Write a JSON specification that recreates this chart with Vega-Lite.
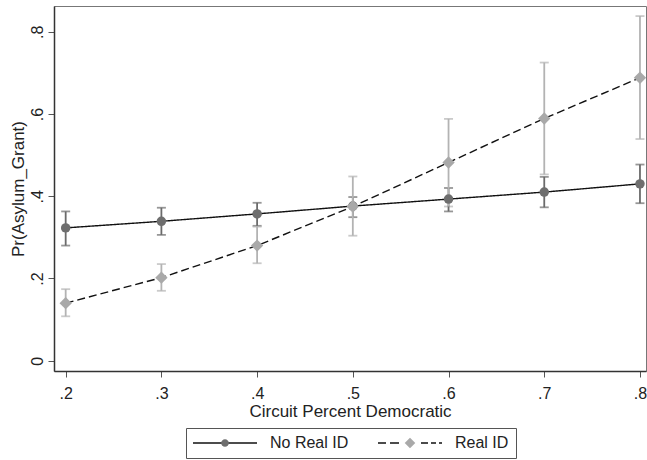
{
  "$schema": "https://vega.github.io/schema/vega-lite/v6.json",
  "width": 592,
  "height": 365,
  "autosize": {"type": "none"},
  "padding": {"left": 54, "top": 6, "right": 1, "bottom": 89},
  "background": "white",
  "config": {
    "font": "Liberation Sans",
    "view": {"stroke": "#777", "strokeWidth": 1},
    "axis": {
      "grid": false,
      "domainColor": "#333",
      "domainWidth": 1.5,
      "tickColor": "#555",
      "tickSize": 6,
      "tickWidth": 1,
      "labelColor": "#222",
      "labelFont": "Liberation Sans",
      "labelFontSize": 16,
      "labelFlush": false,
      "titleFont": "Liberation Sans",
      "titleFontSize": 17,
      "titleFontWeight": "normal",
      "titleColor": "#222"
    }
  },
  "data": {
    "values": [
      {"series": "No Real ID", "x": 0.2, "y": 0.323, "lo": 0.280, "hi": 0.363},
      {"series": "No Real ID", "x": 0.3, "y": 0.339, "lo": 0.306, "hi": 0.372},
      {"series": "No Real ID", "x": 0.4, "y": 0.357, "lo": 0.328, "hi": 0.384},
      {"series": "No Real ID", "x": 0.5, "y": 0.376, "lo": 0.349, "hi": 0.398},
      {"series": "No Real ID", "x": 0.6, "y": 0.393, "lo": 0.363, "hi": 0.420},
      {"series": "No Real ID", "x": 0.7, "y": 0.410, "lo": 0.373, "hi": 0.447},
      {"series": "No Real ID", "x": 0.8, "y": 0.430, "lo": 0.383, "hi": 0.477},
      {"series": "Real ID", "x": 0.2, "y": 0.140, "lo": 0.108, "hi": 0.174},
      {"series": "Real ID", "x": 0.3, "y": 0.202, "lo": 0.170, "hi": 0.235},
      {"series": "Real ID", "x": 0.4, "y": 0.280, "lo": 0.237, "hi": 0.326},
      {"series": "Real ID", "x": 0.5, "y": 0.375, "lo": 0.304, "hi": 0.448},
      {"series": "Real ID", "x": 0.6, "y": 0.482, "lo": 0.375, "hi": 0.588},
      {"series": "Real ID", "x": 0.7, "y": 0.589, "lo": 0.453, "hi": 0.725},
      {"series": "Real ID", "x": 0.8, "y": 0.688, "lo": 0.539, "hi": 0.838}
    ]
  },
  "layer": [
    {
      "mark": {"type": "errorbar", "ticks": true, "size": 9, "thickness": 1.8},
      "encoding": {
        "x": {
          "field": "x", "type": "quantitative",
          "scale": {"domain": [0.1878, 0.8063], "nice": false, "zero": false},
          "title": "Circuit Percent Democratic",
          "axis": {
            "values": [0.2, 0.3, 0.4, 0.5, 0.6, 0.7, 0.8],
            "labelExpr": "replace(format(datum.value, '.1f'), '0.', '.')",
            "labelPadding": 8,
            "titlePadding": 2
          }
        },
        "y": {
          "field": "lo", "type": "quantitative",
          "scale": {"domain": [-0.025, 0.8625], "nice": false, "zero": false},
          "title": "Pr(Asylum_Grant)",
          "axis": {
            "values": [0, 0.2, 0.4, 0.6, 0.8],
            "labelExpr": "datum.value == 0 ? '0' : replace(format(datum.value, '.1f'), '0.', '.')",
            "labelAngle": -90,
            "labelAlign": "center",
            "labelBaseline": "alphabetic",
            "labelPadding": 6,
            "titlePadding": 2
          }
        },
        "y2": {"field": "hi"},
        "color": {
          "field": "series", "type": "nominal",
          "scale": {"domain": ["No Real ID", "Real ID"], "range": ["#6b6b6b", "#b3b3b3"]},
          "legend": null
        }
      }
    },
    {
      "mark": {"type": "line", "color": "#111", "strokeWidth": 1.4},
      "encoding": {
        "x": {"field": "x", "type": "quantitative", "title": "Circuit Percent Democratic"},
        "y": {"field": "y", "type": "quantitative", "title": "Pr(Asylum_Grant)"},
        "strokeDash": {
          "field": "series", "type": "nominal",
          "scale": {"domain": ["No Real ID", "Real ID"], "range": [[1, 0], [8, 4]]},
          "legend": null
        }
      }
    },
    {
      "mark": {"type": "point", "filled": true, "opacity": 1, "size": 90, "strokeWidth": 0},
      "encoding": {
        "x": {"field": "x", "type": "quantitative", "title": "Circuit Percent Democratic"},
        "y": {"field": "y", "type": "quantitative", "title": "Pr(Asylum_Grant)"},
        "shape": {
          "field": "series", "type": "nominal",
          "scale": {"domain": ["No Real ID", "Real ID"], "range": ["circle", "M-1.3,0L0,-1.3L1.3,0L0,1.3Z"]},
          "legend": null
        },
        "fill": {
          "field": "series", "type": "nominal",
          "scale": {"domain": ["No Real ID", "Real ID"], "range": ["#6e6e6e", "#a9a9a9"]},
          "legend": null
        }
      }
    },
    {
      "transform": [{"filter": "false"}],
      "mark": {"type": "point", "filled": true, "opacity": 1, "color": "#111", "strokeWidth": 0},
      "encoding": {
        "x": {"field": "x", "type": "quantitative", "title": "Circuit Percent Democratic"},
        "y": {"field": "y", "type": "quantitative", "title": "Pr(Asylum_Grant)"},
        "shape": {
          "field": "series", "type": "nominal",
          "scale": {
            "domain": ["No Real ID", "Real ID"],
            "range": [
              "M-4,-0.08H4V0.08H-4Z",
              "M-4,-0.08H-3V0.08H-4ZM-2.5,-0.08H-1.375V0.08H-2.5ZM1.375,-0.08H2.25V0.08H1.375ZM2.625,-0.08H3.25V0.08H2.625ZM3.625,-0.08H4V0.08H3.625Z"
            ]
          },
          "legend": {
            "title": null, "orient": "none", "legendX": 132, "legendY": 422,
            "direction": "horizontal", "symbolSize": 256, "symbolOffset": 24,
            "symbolStrokeWidth": 0, "symbolFillColor": "#111",
            "labelFontSize": 16, "labelOffset": 37, "columnPadding": 29, "padding": 7,
            "strokeColor": "#555", "labelColor": "#222", "labelFont": "Liberation Sans"
          }
        }
      }
    },
    {
      "transform": [{"filter": "false"}],
      "mark": {"type": "point", "filled": true, "opacity": 1, "strokeWidth": 0},
      "encoding": {
        "x": {"field": "x", "type": "quantitative", "title": "Circuit Percent Democratic"},
        "y": {"field": "y", "type": "quantitative", "title": "Pr(Asylum_Grant)"},
        "shape": {
          "field": "series", "type": "nominal",
          "scale": {
            "domain": ["No Real ID", "Real ID"],
            "range": [
              "M-4,0L-4,0.01L-3.99,0ZM4,0L4,0.01L3.99,0ZM-0.48,0A0.48,0.48,0,1,0,0.48,0A0.48,0.48,0,1,0,-0.48,0Z",
              "M-4,0L-4,0.01L-3.99,0ZM4,0L4,0.01L3.99,0ZM-0.66,0L0,-0.66L0.66,0L0,0.66Z"
            ]
          },
          "legend": {
            "title": null, "orient": "none", "legendX": 132, "legendY": 422,
            "direction": "horizontal", "symbolSize": 256, "symbolOffset": 24,
            "symbolStrokeWidth": 0,
            "labelFontSize": 16, "labelOffset": 37, "columnPadding": 29, "padding": 7,
            "strokeColor": "transparent", "labelColor": "transparent", "labelFont": "Liberation Sans"
          }
        },
        "fill": {
          "field": "series", "type": "nominal",
          "scale": {"domain": ["No Real ID", "Real ID"], "range": ["#6e6e6e", "#a9a9a9"]},
          "legend": {
            "title": null, "orient": "none", "legendX": 132, "legendY": 422,
            "direction": "horizontal", "symbolSize": 256, "symbolOffset": 24,
            "symbolStrokeWidth": 0,
            "labelFontSize": 16, "labelOffset": 37, "columnPadding": 29, "padding": 7,
            "strokeColor": "transparent", "labelColor": "transparent", "labelFont": "Liberation Sans"
          }
        }
      }
    }
  ],
  "resolve": {"scale": {"shape": "independent", "fill": "independent"}}
}
